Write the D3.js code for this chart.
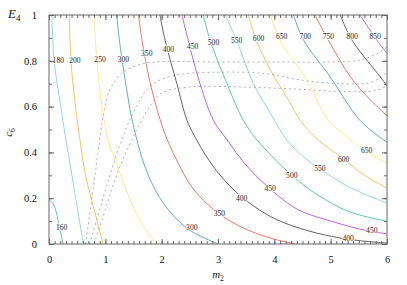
<!DOCTYPE html>
<html>
<head>
<meta charset="utf-8">
<script src="https://cdn.jsdelivr.net/npm/d3@7"></script>
<style>
body { margin: 0; background: #fff; }
svg text { font-family: "Liberation Serif", "DejaVu Serif", serif; }
</style>
</head>
<body>
<div class="plot"></div>
<script>
// contour levels of E4 and their lines as (m2, c6)
const levels = [160, 180, 200, 250, 300, 350, 400, 450, 500, 550, 600, 650, 700, 750, 800, 850];

const c160 = [[0,0.193],[0.06,0.18],[0.11,0.155],[0.18,0.08],[0.25,0]];
const c180 = [[0.05,1],[0.09,0.8],[0.21,0.6],[0.30,0.455],[0.40,0.31],[0.48,0.19],[0.61,0]];
const c200 = [[0.36,1],[0.39,0.8],[0.47,0.6],[0.55,0.455],[0.64,0.31],[0.76,0.19],[0.96,0]];
const c250 = [[0.80,1],[0.85,0.8],[0.94,0.6],[1.05,0.455],[1.20,0.35],[1.38,0.23],[1.62,0.10],[1.78,0.04],[1.90,0]];
const c300 = [[1.20,1],[1.27,0.85],[1.38,0.673],[1.46,0.56],[1.56,0.455],[1.70,0.34],[1.90,0.23],[2.15,0.14],[2.5,0.06],[3.0,0]];
const c350 = [[1.59,1],[1.65,0.89],[1.79,0.71],[1.97,0.545],[2.10,0.455],[2.30,0.35],[2.57,0.237],[3.02,0.132],[3.45,0.07],[3.93,0.026],[4.37,0]];
const c400 = [[1.97,1],[2.06,0.89],[2.27,0.70],[2.45,0.54],[2.62,0.455],[2.80,0.38],[3.04,0.30],[3.40,0.21],[3.93,0.12],[4.42,0.071],[5.02,0.033],[5.5,0.015],[6,0.004]];
const c450 = [[2.36,1],[2.47,0.89],[2.68,0.70],[2.92,0.54],[3.16,0.455],[3.48,0.35],[3.86,0.255],[4.42,0.15],[5.02,0.099],[5.5,0.066],[6,0.044]];
const c500 = [[2.74,1],[2.86,0.89],[3.16,0.70],[3.45,0.54],[3.69,0.455],[3.95,0.385],[4.31,0.30],[4.72,0.222],[5.32,0.142],[6,0.099]];
const c550 = [[3.13,1],[3.33,0.89],[3.63,0.70],[3.93,0.571],[4.22,0.455],[4.50,0.385],[4.81,0.328],[5.32,0.25],[6,0.179]];
const c600 = [[3.54,1],[3.68,0.89],[3.93,0.76],[4.25,0.63],[4.46,0.54],[4.78,0.455],[5.23,0.37],[5.6,0.3],[6,0.244]];
const c650 = [[3.93,1],[4.10,0.89],[4.58,0.716],[4.96,0.54],[5.35,0.455],[5.64,0.40],[6,0.353]];
const c700 = [[4.34,1],[4.52,0.89],[4.99,0.73],[5.52,0.54],[5.91,0.46],[6,0.445]];
const c750 = [[4.72,1],[4.96,0.89],[5.35,0.73],[5.7,0.63],[6,0.56]];
const c800 = [[5.17,1],[5.38,0.89],[5.88,0.73],[6,0.69]];
const c850 = [[5.52,1],[5.82,0.89],[6,0.833]];
const contourLines = [c160, c180, c200, c250, c300, c350, c400, c450, c500, c550, c600, c650, c700, c750, c800, c850];

// grey dashed boundaries
const dash1 = [[0.65,0],[0.79,0.25],[0.90,0.455],[0.96,0.556],[1.08,0.673],[1.29,0.745],[1.56,0.78],[1.85,0.794],[3,0.795],[4,0.795],[5,0.795],[5.55,0.805],[5.85,0.835],[6,0.86]];
const dash2 = [[0.72,0],[0.90,0.15],[1.08,0.30],[1.29,0.455],[1.55,0.60],[1.80,0.69],[2.2,0.735],[3,0.75],[3.8,0.745],[4.5,0.715],[5.2,0.70],[5.7,0.705],[5.9,0.73],[6,0.75]];
const dash3 = [[0.80,0],[1.00,0.15],[1.20,0.30],[1.47,0.455],[1.79,0.60],[2.0,0.66],[2.5,0.685],[3.5,0.685],[4.5,0.675],[5.3,0.665],[5.8,0.67],[6,0.69]];
const dashLines = [dash1, dash2, dash3];

// contour labels: [level, m2, c6]
const labelsTop = [[180,0.165,0.804],[200,0.46,0.802],[250,0.906,0.808],[300,1.32,0.808],[350,1.735,0.833],[400,2.12,0.852],[450,2.55,0.865],[500,2.92,0.879],[550,3.33,0.891],[600,3.72,0.898],[650,4.13,0.908],[700,4.55,0.908],[750,4.96,0.908],[800,5.38,0.908],[850,5.79,0.908]];
const labelsLow = [[160,0.225,0.074],[300,2.535,0.072],[350,3.025,0.132],[400,3.42,0.20],[450,3.925,0.244],[500,4.31,0.302],[550,4.81,0.331],[600,5.23,0.372],[650,5.64,0.407],[400,5.31,0.027],[450,5.73,0.062]];

const xTicks = [0,1,2,3,4,5,6];
const yTicks = [0,0.2,0.4,0.6,0.8,1];

// gnuplot's colour cycle, counted down from the top level
const cycle = ['#9400d3','#000000','#e51e10','#0072b2','#f0e442','#e69f00','#56b4e9','#009e73'];
const colorOf = lv => cycle[(levels.length - 1 - levels.indexOf(lv)) % 8];

const width = 407, height = 285;
const margin = {left: 49, right: 20, top: 15, bottom: 41};

const svg = d3.select('.plot').append('svg')
    .attr('width', width)
    .attr('height', height);

const x = d3.scaleLinear().domain([0,6]).range([margin.left, width - margin.right]);
const y = d3.scaleLinear().domain([0,1]).range([height - margin.bottom, margin.top]);

svg.append('clipPath').attr('id','clip')
    .append('rect')
    .attr('x', x(0)).attr('y', y(1))
    .attr('width', x(6)-x(0)).attr('height', y(0)-y(1));

const line = d3.line().x(d => x(d[0])).y(d => y(d[1])).curve(d3.curveCatmullRom.alpha(0.5));

const g = svg.append('g').attr('clip-path','url(#clip)');

g.selectAll('.dash')
    .data(dashLines)
    .enter()
    .append('path')
    .attr('class','dash')
    .attr('d', line)
    .attr('fill','none')
    .attr('stroke','#a8a8a8')
    .attr('stroke-width',0.9)
    .attr('stroke-dasharray','2,3');

g.selectAll('.cont')
    .data(contourLines)
    .enter()
    .append('path')
    .attr('class','cont')
    .attr('d', line)
    .attr('fill','none')
    .attr('stroke', (d,i) => colorOf(levels[i]))
    .attr('stroke-opacity',0.72)
    .attr('stroke-width',0.85);

svg.selectAll('.clab')
    .data(labelsTop.concat(labelsLow))
    .enter()
    .append('text')
    .attr('class','clab')
    .text(d => d[0])
    .attr('x', d => x(d[1]))
    .attr('y', d => y(d[2]) + 2.7)
    .attr('text-anchor','middle')
    .attr('font-size',7.6)
    .attr('fill','#222')
    .attr('stroke','#fff')
    .attr('stroke-width',1.6)
    .attr('paint-order','stroke');

// frame and ticks, all pointing inward
svg.append('rect')
    .attr('x', x(0)).attr('y', y(1))
    .attr('width', x(6)-x(0)).attr('height', y(0)-y(1))
    .attr('fill','none')
    .attr('stroke','#666')
    .attr('stroke-width',1);

const xMinor = d3.range(0, 60.5, 1).map(d => d/10);
const yMinor = d3.range(0, 10.5, 1).map(d => d/10);

function axisLayer(ax, tr) {
    const a = svg.append('g').attr('transform', tr).call(ax);
    a.select('.domain').remove();
    a.selectAll('line').attr('stroke','#666');
    return a;
}

axisLayer(d3.axisBottom(x).tickValues(xMinor).tickSize(-3).tickFormat(''), `translate(0,${y(0)})`);
axisLayer(d3.axisTop(x).tickValues(xMinor).tickSize(-3).tickFormat(''), `translate(0,${y(1)})`);
axisLayer(d3.axisLeft(y).tickValues(yMinor).tickSize(-3).tickFormat(''), `translate(${x(0)},0)`);
axisLayer(d3.axisRight(y).tickValues(yMinor).tickSize(-3).tickFormat(''), `translate(${x(6)},0)`);
axisLayer(d3.axisTop(x).tickValues(xTicks).tickSize(-5).tickFormat(''), `translate(0,${y(1)})`);
axisLayer(d3.axisRight(y).tickValues(yTicks).tickSize(-5).tickFormat(''), `translate(${x(6)},0)`);

const xa = axisLayer(d3.axisBottom(x).tickValues(xTicks).tickSize(-5).tickPadding(12).tickFormat(d3.format('d')), `translate(0,${y(0)})`);
const ya = axisLayer(d3.axisLeft(y).tickValues(yTicks).tickSize(-5).tickPadding(12).tickFormat(d => d), `translate(${x(0)},0)`);
[xa, ya].forEach(a => a.selectAll('text')
    .attr('font-family','"Liberation Serif", serif')
    .attr('font-size',10.5)
    .attr('fill','#111'));

// axis titles
const xl = svg.append('text')
    .attr('x', x(3))
    .attr('y', 278)
    .attr('text-anchor','middle')
    .attr('font-size',11)
    .attr('fill','#111');
xl.append('tspan').attr('font-style','italic').text('m');
xl.append('tspan').attr('font-size',7.5).attr('dy',2.5).text('2');

const yl = svg.append('text')
    .attr('transform', `translate(12,${y(0.5)+3}) rotate(-90)`)
    .attr('text-anchor','middle')
    .attr('font-size',11)
    .attr('fill','#111');
yl.append('tspan').attr('font-style','italic').text('c');
yl.append('tspan').attr('font-size',7.5).attr('dy',2.5).text('6');

const t = svg.append('text')
    .attr('x', 8)
    .attr('y', 18)
    .attr('font-size',13)
    .attr('fill','#111');
t.append('tspan').attr('font-style','italic').text('E');
t.append('tspan').attr('font-size',9).attr('dy',3).text('4');
</script>
</body>
</html>
